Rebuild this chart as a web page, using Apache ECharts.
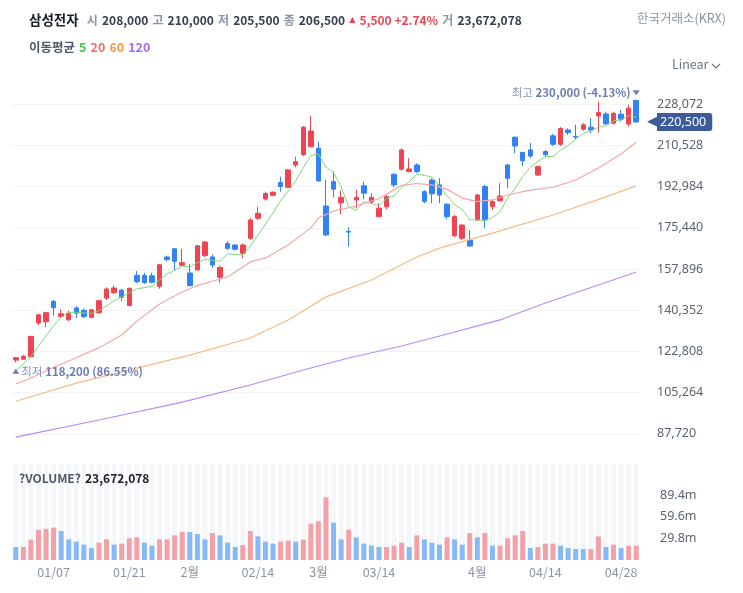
<!DOCTYPE html>
<html>
<head>
<meta charset="utf-8">
<title>삼성전자</title>
<script src="https://cdn.jsdelivr.net/npm/echarts@6.0.0/dist/echarts.min.js"></script>
<style>
  html, body { margin: 0; padding: 0; background: #fff; }
  #chart { width: 743px; height: 593px; }
</style>
</head>
<body>
<div id="chart"></div>
<script>
// trading days shown on the chart
const dates = [
  '12/29', '12/30', '01/02', '01/05', '01/06', '01/07', '01/08', '01/09', '01/12', '01/13',
  '01/14', '01/15', '01/16', '01/19', '01/20', '01/21', '01/22', '01/23', '01/26', '01/27',
  '01/28', '01/29', '01/30', '02/02', '02/03', '02/04', '02/05', '02/06', '02/09', '02/10',
  '02/11', '02/12', '02/13', '02/19', '02/20', '02/23', '02/24', '02/25', '02/26', '02/27',
  '03/03', '03/04', '03/05', '03/06', '03/09', '03/10', '03/11', '03/12', '03/13', '03/16',
  '03/17', '03/18', '03/19', '03/20', '03/23', '03/24', '03/25', '03/26', '03/27', '03/30',
  '03/31', '04/01', '04/02', '04/03', '04/06', '04/07', '04/08', '04/09', '04/10', '04/13',
  '04/14', '04/15', '04/16', '04/17', '04/20', '04/21', '04/22', '04/23', '04/24', '04/27',
  '04/28', '04/29', '04/30'
]

// x axis labels (category where it sits -> text)
const tickDates = ['01/07', '01/21', '02/02', '02/13', '03/03', '03/13', '04/01', '04/14', '04/28']
const tickTexts = ['01/07', '01/21', '2월', '02/14', '3월', '03/14', '4월', '04/14', '04/28']

const opens = [
  119100, 119500, 120500, 134900, 135400, 144100, 137700, 136300, 141300, 140300,
  137300, 139300, 145500, 147800, 148900, 142300, 155200, 155200, 155000, 150500,
  163000, 166500, 159500, 156200, 157500, 163600, 163000, 154400, 168800, 168100,
  164600, 171000, 179500, 187700, 189300, 194700, 192700, 202200, 206500, 210000,
  209300, 184700, 195100, 186100, 173900, 187300, 193300, 186400, 180200, 184400,
  198200, 200400, 199400, 202200, 190800, 195800, 193700, 185500, 172100, 171000,
  170200, 178800, 193000, 184400, 187000, 202200, 214000, 207500, 208600, 197900,
  207900, 214600, 211000, 217100, 214300, 217400, 218300, 223100, 223900, 220000,
  223800, 219600, 229600
]
const closes = [
  120100, 120700, 129200, 138400, 139300, 141400, 138800, 139100, 139100, 137700,
  140500, 144400, 149400, 149800, 145800, 149700, 152500, 152100, 152300, 159700,
  161900, 161200, 160600, 150800, 167800, 169400, 159600, 158600, 166700, 166300,
  168100, 178800, 181600, 190000, 190600, 193000, 200100, 203600, 218300, 216700,
  195400, 172400, 191900, 188400, 173600, 188400, 190200, 188400, 183800, 188700,
  193700, 208600, 200500, 199400, 186600, 189900, 189400, 180200, 180200, 176600,
  167700, 189400, 178800, 186600, 189000, 196500, 210300, 204000, 206000, 201500,
  206500, 211000, 217700, 216000, 214100, 219300, 217100, 224500, 219700, 224200,
  221700, 226400, 220500
]
const lows = [
  118200, 119300, 120300, 134000, 133200, 137900, 137100, 135700, 137100, 136900,
  137000, 138800, 144700, 147200, 144300, 142000, 151900, 151500, 151800, 149500,
  161200, 157200, 159200, 150500, 157200, 163000, 158400, 152100, 166000, 165700,
  162500, 170200, 178800, 187000, 189000, 190800, 192300, 201200, 206000, 209800,
  195100, 171900, 188400, 181300, 167400, 183800, 187600, 185600, 179900, 183300,
  192700, 199800, 199100, 198700, 185900, 185900, 185900, 179100, 171500, 170200,
  167400, 178300, 175200, 183000, 186600, 192300, 207200, 201800, 205100, 197500,
  205800, 210300, 210300, 215000, 213200, 216800, 215700, 216000, 219300, 219300,
  220700, 218500, 220300
]
const highs = [
  120400, 121400, 129400, 138700, 139500, 144700, 140700, 140100, 142100, 141000,
  140800, 144700, 150100, 151000, 149400, 149900, 157000, 156300, 156300, 160000,
  163600, 166800, 166500, 160000, 168100, 169800, 164100, 159300, 169800, 168400,
  168800, 179500, 184400, 190800, 190900, 197200, 200500, 205700, 218800, 223100,
  212100, 195800, 199400, 191300, 175700, 191600, 195100, 190100, 185900, 189400,
  198700, 209300, 205100, 202900, 191500, 196500, 196500, 185900, 180900, 177000,
  174500, 189900, 193700, 187300, 194400, 202600, 214300, 207900, 211500, 201900,
  208600, 215400, 218300, 217800, 219300, 220000, 222100, 229200, 224900, 224900,
  225600, 227800, 230000
]

// moving averages
const ma5 = [
  114500, 117500, 120500, 125000, 129500, 133800, 137400, 139400, 139500, 139200,
  139000, 140200, 142200, 144400, 146000, 147800, 149400, 150000, 150500, 153300,
  155700, 157400, 159100, 158800, 160500, 162000, 161600, 161200, 164400, 164100,
  163900, 167700, 172300, 177000, 181800, 186800, 191100, 195500, 201100, 206300,
  206800, 201300, 198900, 193000, 184300, 182900, 186500, 185800, 184900, 187900,
  189000, 192600, 195100, 198200, 197800, 197000, 193200, 189100, 185300, 183300,
  178800, 178800, 178500, 179800, 182300, 188100, 192200, 197300, 201200, 203700,
  205700, 205800, 208500, 210500, 213100, 215600, 216800, 218200, 218900, 221000,
  221400, 223300, 222500
]
// [category index, value] read at points along the smoother lines
const ma20Pts = [
  [0, 108900], [2, 111400], [4, 114600], [7, 118700], [11, 124400], [14, 129800],
  [16, 135700], [19, 143000], [22, 148100], [24, 150900], [28, 154500], [31, 160900],
  [33, 162600], [36, 168100], [39, 175400], [40, 179600], [42, 182600], [45, 184700],
  [48, 187900], [51, 193500], [53, 194300], [55, 193700], [57, 191800], [59, 188100],
  [61, 186600], [63, 187300], [65, 189400], [68, 191500], [71, 192700], [74, 195800],
  [77, 200900], [80, 206900], [82, 212000]
]
const ma60Pts = [
  [0, 101600], [8, 109300], [16, 115700], [23, 121200], [31, 128500], [36, 136200],
  [41, 146000], [47, 153200], [53, 163000], [56, 166800], [63, 173200], [71, 180900],
  [78, 188600], [82, 193300]
]
const ma120Pts = [
  [0, 86300], [11, 93600], [22, 101200], [31, 108500], [38, 114900], [44, 120000],
  [51, 125100], [57, 130200], [64, 136200], [70, 143400], [77, 151100], [82, 156600]
]

// volume in millions, and the colour direction of each bar (r = up, b = down)
const volumes = [
  17.9, 17.9, 28.0, 41.7, 43.1, 44.5, 39.9, 28.4, 25.2, 21.1,
  16.5, 23.8, 28.4, 21.1, 22.5, 29.8, 31.2, 23.8, 19.7, 28.4,
  28.4, 33.9, 38.5, 38.5, 35.7, 28.4, 37.1, 33.9, 23.8, 17.9,
  20.6, 39.9, 32.5, 25.2, 22.5, 25.2, 26.6, 25.2, 28.0, 50.0,
  53.2, 86.2, 51.3, 28.4, 41.7, 31.2, 22.5, 19.7, 17.9, 17.9,
  19.7, 23.8, 17.9, 33.9, 28.4, 23.8, 21.1, 31.2, 28.4, 21.1,
  37.1, 31.2, 37.1, 19.7, 19.7, 29.8, 33.9, 39.9, 16.5, 17.9,
  22.5, 22.5, 19.7, 16.5, 15.1, 15.1, 15.1, 32.5, 17.9, 21.1,
  16.5, 19.7, 19.7
]
const volDir = ('brrrrrbbbb' + 'brrbrrrbbr' + 'rrrbbbrbbb' + 'rrbbbrrbrr' + 'rrbbrbbbbr' +
  'rrbrbbbrbb' + 'rbrbrrrrbr' + 'rrbbbbrrbr' + 'brr').split('')

const UP = '#f04452'
const DOWN = '#3182f6'
const VOL_UP = '#f5a0a6'
const VOL_DOWN = '#86b9f8'
const MARK = '#6c7db3'
const TAG = '#3d5a99'
const fontKr = '"Noto Sans CJK KR", "Noto Sans", sans-serif'

const comma = (v) => String(Math.round(v)).replace(/\B(?=(\d{3})+(?!\d))/g, ',')
const sparse = (pts) => {
  const arr = dates.map(() => null)
  pts.forEach(([i, v]) => { arr[i] = v })
  return arr
}
const lastClose = closes[closes.length - 1]

const maLine = (name, data, color, width) => ({
  name,
  type: 'line',
  xAxisIndex: 0,
  yAxisIndex: 0,
  data,
  symbol: 'none',
  connectNulls: true,
  silent: true,
  lineStyle: { color, width },
  emphasis: { disabled: true },
})

const markLabel = (word) => ({
  fontFamily: fontKr,
  formatter: (p) => {
    const pct = ((lastClose / p.value - 1) * 100).toFixed(2)
    return '{w|' + word + '} {n|' + comma(p.value) + ' (' + pct + '%)}'
  },
  rich: {
    w: { color: '#8391bf', fontSize: 11.5, fontFamily: fontKr },
    n: { color: MARK, fontSize: 11.5, fontWeight: 'bold', fontFamily: fontKr },
  },
})

const chart = echarts.init(document.getElementById('chart'))

chart.setOption({
  animation: false,
  textStyle: { fontFamily: fontKr },
  title: [
    {
      left: 29,
      top: 11,
      padding: 0,
      text: '{n|삼성전자}  {l|시} {v|208,000} {l|고} {v|210,000} {l|저} {v|205,500} {l|종} {v|206,500} {t|▲} {u|5,500 +2.74%} {l|거} {v|23,672,078}',
      textStyle: {
        rich: {
          n: { fontSize: 13.5, fontWeight: 'bold', color: '#191f28', fontFamily: fontKr },
          l: { fontSize: 12, color: '#8b95a1', fontFamily: fontKr },
          v: { fontSize: 12, fontWeight: 'bold', color: '#333d4b', fontFamily: fontKr },
          t: { fontSize: 8, color: UP, fontFamily: 'DejaVu Sans' },
          u: { fontSize: 12, fontWeight: 'bold', color: UP, fontFamily: fontKr },
        },
      },
    },
    {
      right: 17,
      top: 12,
      padding: 0,
      text: '한국거래소(KRX)',
      textStyle: { fontSize: 12.5, fontWeight: 'normal', color: '#8b95a1', fontFamily: fontKr },
    },
    {
      left: 29,
      top: 38,
      padding: 0,
      text: '{l|이동평균} {g|5} {r|20} {o|60} {p|120}',
      textStyle: {
        rich: {
          l: { fontSize: 12.5, color: '#4e5968', fontFamily: fontKr },
          g: { fontSize: 12.5, color: '#3cc24e', fontFamily: fontKr },
          r: { fontSize: 12.5, color: '#f46b6b', fontFamily: fontKr },
          o: { fontSize: 12.5, color: '#f79a48', fontFamily: fontKr },
          p: { fontSize: 12.5, color: '#a46cf3', fontFamily: fontKr },
        },
      },
    },
    {
      left: 19,
      top: 469,
      padding: 0,
      text: '{l|?VOLUME?} {v|23,672,078}',
      textStyle: {
        rich: {
          l: { fontSize: 12, color: '#4e5968', fontFamily: fontKr },
          v: { fontSize: 12, fontWeight: 'bold', color: '#191f28', fontFamily: fontKr },
        },
      },
    },
  ],
  graphic: [
    {
      type: 'text',
      left: 672,
      top: 58,
      style: { text: 'Linear', fill: '#6b7684', fontSize: 12.5, fontFamily: fontKr },
    },
    {
      type: 'polyline',
      shape: { points: [[712, 64], [716, 68], [720, 64]] },
      style: { stroke: '#6b7684', lineWidth: 1.2, fill: null },
    },
  ],
  grid: [
    { left: 12, right: 103, top: 63, height: 412 },
    { left: 12, right: 103, top: 464, height: 96 },
  ],
  xAxis: [
    {
      type: 'category',
      gridIndex: 0,
      data: dates,
      boundaryGap: true,
      axisLine: { show: false },
      axisTick: { show: false },
      axisLabel: { show: false },
      splitLine: { show: false },
    },
    {
      type: 'category',
      gridIndex: 1,
      data: dates,
      boundaryGap: true,
      axisLine: { show: false },
      axisTick: { show: false },
      splitLine: { show: false },
      axisLabel: {
        interval: (i, v) => tickDates.includes(v),
        formatter: (v) => tickTexts[tickDates.indexOf(v)],
        color: '#8b95a1',
        fontSize: 12.5,
        margin: 6,
        fontFamily: fontKr,
      },
    },
  ],
  yAxis: [
    {
      type: 'value',
      gridIndex: 0,
      position: 'right',
      min: 70176,
      max: 245616,
      interval: 17544,
      axisLine: { show: false },
      axisTick: { show: false },
      axisLabel: {
        showMinLabel: false,
        showMaxLabel: false,
        align: 'left',
        margin: 17,
        color: '#5b6370',
        fontSize: 12.5,
        fontFamily: '"Noto Sans", sans-serif',
        formatter: comma,
      },
      splitLine: {
        showMinLine: false,
        showMaxLine: false,
        lineStyle: { color: '#f2f3f5', width: 1 },
      },
    },
    {
      type: 'value',
      gridIndex: 1,
      position: 'right',
      min: 0,
      max: 132,
      interval: 29.8,
      axisLine: { show: false },
      axisTick: { show: false },
      splitLine: { show: false },
      axisLabel: {
        showMinLabel: false,
        showMaxLabel: false,
        align: 'left',
        margin: 20,
        color: '#5b6370',
        fontSize: 12.5,
        fontFamily: '"Noto Sans", sans-serif',
        formatter: (v) => (v > 100 ? '' : v.toFixed(1) + 'm'),
      },
    },
  ],
  series: [
    {
      name: '삼성전자',
      type: 'candlestick',
      xAxisIndex: 0,
      yAxisIndex: 0,
      barWidth: 5,
      data: dates.map((d, i) => [opens[i], closes[i], lows[i], highs[i]]),
      itemStyle: {
        color: UP,
        color0: DOWN,
        borderColor: UP,
        borderColor0: DOWN,
        borderWidth: 1,
      },
      emphasis: { disabled: true },
      markPoint: {
        symbol: 'triangle',
        symbolSize: [7, 5],
        silent: true,
        itemStyle: { color: MARK },
        data: [
          {
            type: 'max',
            valueDim: 'highest',
            symbolRotate: 180,
            symbolOffset: [0, -7],
            label: Object.assign({ position: 'left', distance: 2 }, markLabel('최고')),
          },
          {
            type: 'min',
            valueDim: 'lowest',
            symbolOffset: [0, 9],
            label: Object.assign({ position: 'right', distance: 2 }, markLabel('최저')),
          },
        ],
      },
      markLine: {
        silent: true,
        symbol: 'none',
        lineStyle: { color: 'rgba(0,0,0,0)', width: 0 },
        emphasis: { disabled: true },
        data: [{ yAxis: lastClose }],
        label: {
          show: true,
          position: 'end',
          distance: 7,
          formatter: () => '{a|◀}{b|' + comma(lastClose) + '}',
          rich: {
            a: { color: TAG, fontSize: 13, fontFamily: 'DejaVu Sans', padding: [0, 0, 1, 0] },
            b: {
              color: '#fff',
              backgroundColor: TAG,
              fontSize: 12.5,
              fontFamily: '"Noto Sans", sans-serif',
              padding: [3, 6, 2, 3],
              borderRadius: [0, 3, 3, 0],
            },
          },
        },
      },
    },
    maLine('MA5', ma5, '#7fd67c', 1),
    maLine('MA20', sparse(ma20Pts), '#f7a5a5', 1.2),
    maLine('MA60', sparse(ma60Pts), '#f9b983', 1.2),
    maLine('MA120', sparse(ma120Pts), '#b78af6', 1.2),
    {
      name: 'VOLUME',
      type: 'bar',
      xAxisIndex: 1,
      yAxisIndex: 1,
      barWidth: 5,
      showBackground: true,
      backgroundStyle: { color: '#f4f6fa' },
      emphasis: { disabled: true },
      data: volumes.map((v, i) => ({
        value: v,
        itemStyle: { color: volDir[i] === 'r' ? VOL_UP : VOL_DOWN },
      })),
    },
  ],
})
</script>
</body>
</html>
